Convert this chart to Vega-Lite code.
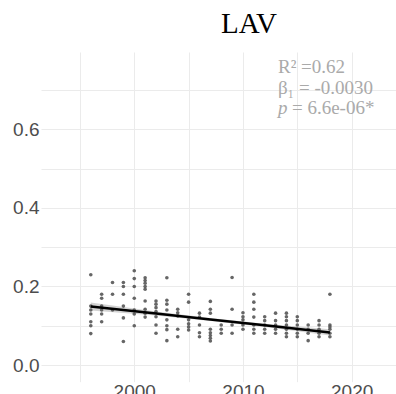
{
  "$schema": "https://vega.github.io/schema/vega-lite/v6.json",
  "width": 355,
  "height": 329.7,
  "autosize": "none",
  "padding": {"left": 41, "top": 52, "right": 0, "bottom": 12.3},
  "background": "white",
  "datasets": {
    "obs": [
      {"year": 1996, "value": 0.23}, {"year": 1996, "value": 0.15}, {"year": 1996, "value": 0.14}, {"year": 1996, "value": 0.13}, {"year": 1996, "value": 0.11}, {"year": 1996, "value": 0.10}, {"year": 1996, "value": 0.08},
      {"year": 1997, "value": 0.18}, {"year": 1997, "value": 0.17}, {"year": 1997, "value": 0.15}, {"year": 1997, "value": 0.14}, {"year": 1997, "value": 0.13}, {"year": 1997, "value": 0.11},
      {"year": 1998, "value": 0.21}, {"year": 1998, "value": 0.18}, {"year": 1998, "value": 0.14},
      {"year": 1999, "value": 0.21}, {"year": 1999, "value": 0.20}, {"year": 1999, "value": 0.18}, {"year": 1999, "value": 0.15}, {"year": 1999, "value": 0.12}, {"year": 1999, "value": 0.06},
      {"year": 2000, "value": 0.24}, {"year": 2000, "value": 0.22}, {"year": 2000, "value": 0.20}, {"year": 2000, "value": 0.17}, {"year": 2000, "value": 0.14}, {"year": 2000, "value": 0.13}, {"year": 2000, "value": 0.10},
      {"year": 2001, "value": 0.222}, {"year": 2001, "value": 0.215}, {"year": 2001, "value": 0.208}, {"year": 2001, "value": 0.20}, {"year": 2001, "value": 0.193}, {"year": 2001, "value": 0.163}, {"year": 2001, "value": 0.142}, {"year": 2001, "value": 0.132}, {"year": 2001, "value": 0.122},
      {"year": 2002, "value": 0.163}, {"year": 2002, "value": 0.155}, {"year": 2002, "value": 0.146}, {"year": 2002, "value": 0.136}, {"year": 2002, "value": 0.123}, {"year": 2002, "value": 0.102}, {"year": 2002, "value": 0.081},
      {"year": 2003, "value": 0.222}, {"year": 2003, "value": 0.165}, {"year": 2003, "value": 0.155}, {"year": 2003, "value": 0.14}, {"year": 2003, "value": 0.115}, {"year": 2003, "value": 0.10}, {"year": 2003, "value": 0.09}, {"year": 2003, "value": 0.062},
      {"year": 2004, "value": 0.142}, {"year": 2004, "value": 0.133}, {"year": 2004, "value": 0.125}, {"year": 2004, "value": 0.091}, {"year": 2004, "value": 0.072},
      {"year": 2005, "value": 0.18}, {"year": 2005, "value": 0.16}, {"year": 2005, "value": 0.115}, {"year": 2005, "value": 0.105}, {"year": 2005, "value": 0.097}, {"year": 2005, "value": 0.089},
      {"year": 2006, "value": 0.132}, {"year": 2006, "value": 0.122}, {"year": 2006, "value": 0.102}, {"year": 2006, "value": 0.082}, {"year": 2006, "value": 0.072},
      {"year": 2007, "value": 0.162}, {"year": 2007, "value": 0.142}, {"year": 2007, "value": 0.132}, {"year": 2007, "value": 0.091}, {"year": 2007, "value": 0.082}, {"year": 2007, "value": 0.075}, {"year": 2007, "value": 0.068}, {"year": 2007, "value": 0.061},
      {"year": 2008, "value": 0.102}, {"year": 2008, "value": 0.091}, {"year": 2008, "value": 0.081},
      {"year": 2009, "value": 0.223}, {"year": 2009, "value": 0.142}, {"year": 2009, "value": 0.102}, {"year": 2009, "value": 0.081},
      {"year": 2010, "value": 0.133}, {"year": 2010, "value": 0.123}, {"year": 2010, "value": 0.115}, {"year": 2010, "value": 0.102}, {"year": 2010, "value": 0.091},
      {"year": 2011, "value": 0.18}, {"year": 2011, "value": 0.16}, {"year": 2011, "value": 0.142}, {"year": 2011, "value": 0.122}, {"year": 2011, "value": 0.102}, {"year": 2011, "value": 0.091}, {"year": 2011, "value": 0.081},
      {"year": 2012, "value": 0.123}, {"year": 2012, "value": 0.113}, {"year": 2012, "value": 0.102}, {"year": 2012, "value": 0.091}, {"year": 2012, "value": 0.081},
      {"year": 2013, "value": 0.132}, {"year": 2013, "value": 0.113}, {"year": 2013, "value": 0.102}, {"year": 2013, "value": 0.091}, {"year": 2013, "value": 0.081},
      {"year": 2014, "value": 0.132}, {"year": 2014, "value": 0.123}, {"year": 2014, "value": 0.113}, {"year": 2014, "value": 0.102}, {"year": 2014, "value": 0.091}, {"year": 2014, "value": 0.081}, {"year": 2014, "value": 0.072},
      {"year": 2015, "value": 0.123}, {"year": 2015, "value": 0.113}, {"year": 2015, "value": 0.102}, {"year": 2015, "value": 0.091}, {"year": 2015, "value": 0.081}, {"year": 2015, "value": 0.072},
      {"year": 2016, "value": 0.102}, {"year": 2016, "value": 0.091}, {"year": 2016, "value": 0.081}, {"year": 2016, "value": 0.062},
      {"year": 2017, "value": 0.113}, {"year": 2017, "value": 0.102}, {"year": 2017, "value": 0.091}, {"year": 2017, "value": 0.081}, {"year": 2017, "value": 0.072},
      {"year": 2018, "value": 0.18}, {"year": 2018, "value": 0.102}, {"year": 2018, "value": 0.097}, {"year": 2018, "value": 0.091}, {"year": 2018, "value": 0.081}, {"year": 2018, "value": 0.072}
    ],
    "fit": [
      {"year": 1996, "fit": 0.149, "lo": 0.139, "hi": 0.159},
      {"year": 2002, "fit": 0.131, "lo": 0.126, "hi": 0.136},
      {"year": 2007, "fit": 0.116, "lo": 0.112, "hi": 0.120},
      {"year": 2012, "fit": 0.101, "lo": 0.097, "hi": 0.105},
      {"year": 2018, "fit": 0.083, "lo": 0.075, "hi": 0.091}
    ]
  },
  "layer": [
    {
      "data": {"name": "fit"},
      "mark": {"type": "area", "color": "#9e9e9e", "opacity": 0.45},
      "encoding": {
        "x": {
          "field": "year",
          "type": "quantitative",
          "scale": {"domain": [1991.42, 2024.08], "nice": false, "zero": false},
          "axis": {
            "title": null,
            "values": [1995, 2000, 2005, 2010, 2015, 2020],
            "labelExpr": "datum.value % 10 == 0 ? format(datum.value, 'd') : ''",
            "labelFont": "Liberation Sans",
            "labelFontSize": 19,
            "labelColor": "#4d4d4d",
            "labelPadding": 1,
            "domain": false,
            "ticks": false,
            "grid": true,
            "gridColor": "#ebebeb",
            "gridWidth": 1
          }
        },
        "y": {
          "field": "lo",
          "type": "quantitative",
          "scale": {"domain": [-0.0425, 0.797], "nice": false, "zero": false},
          "axis": {
            "title": null,
            "values": [0, 0.1, 0.2, 0.3, 0.4, 0.5, 0.6, 0.7],
            "labelExpr": "round(datum.value * 10) % 2 == 0 ? format(datum.value, '.1f') : ''",
            "labelFont": "Liberation Sans",
            "labelFontSize": 19,
            "labelColor": "#4d4d4d",
            "labelPadding": 2,
            "domain": false,
            "ticks": false,
            "grid": true,
            "gridColor": "#ebebeb",
            "gridWidth": 1
          }
        },
        "y2": {"field": "hi"}
      }
    },
    {
      "data": {"name": "obs"},
      "mark": {"type": "circle", "color": "#555555", "size": 13, "opacity": 0.9},
      "encoding": {
        "x": {"field": "year", "type": "quantitative"},
        "y": {"field": "value", "type": "quantitative"}
      }
    },
    {
      "data": {"name": "fit"},
      "mark": {"type": "line", "color": "black", "strokeWidth": 2.5},
      "encoding": {
        "x": {"field": "year", "type": "quantitative"},
        "y": {"field": "fit", "type": "quantitative"}
      }
    },
    {
      "data": {"values": [{}]},
      "mark": {"type": "text", "text": "LAV", "font": "Liberation Serif", "fontSize": 29, "color": "black", "align": "center", "baseline": "alphabetic"},
      "encoding": {
        "x": {"datum": 2010.55, "type": "quantitative"},
        "y": {"datum": 0.845, "type": "quantitative"}
      }
    },
    {
      "data": {"values": [{}]},
      "mark": {"type": "text", "text": "R\u00b2 =0.62", "font": "Liberation Serif", "fontSize": 19, "color": "#aaaaaa", "align": "left", "baseline": "alphabetic"},
      "encoding": {
        "x": {"datum": 2013.22, "type": "quantitative"},
        "y": {"datum": 0.744, "type": "quantitative"}
      }
    },
    {
      "data": {"values": [{}]},
      "mark": {"type": "text", "text": "\u03b2\u2081 = -0.0030", "font": "Liberation Serif", "fontSize": 19, "color": "#aaaaaa", "align": "left", "baseline": "alphabetic"},
      "encoding": {
        "x": {"datum": 2013.22, "type": "quantitative"},
        "y": {"datum": 0.691, "type": "quantitative"}
      }
    },
    {
      "data": {"values": [{}]},
      "mark": {"type": "text", "text": "p", "font": "Liberation Serif", "fontStyle": "italic", "fontSize": 19, "color": "#aaaaaa", "align": "left", "baseline": "alphabetic"},
      "encoding": {
        "x": {"datum": 2013.22, "type": "quantitative"},
        "y": {"datum": 0.64, "type": "quantitative"}
      }
    },
    {
      "data": {"values": [{}]},
      "mark": {"type": "text", "text": "= 6.6e-06*", "font": "Liberation Serif", "fontSize": 19, "color": "#aaaaaa", "align": "left", "baseline": "alphabetic", "dx": 14},
      "encoding": {
        "x": {"datum": 2013.22, "type": "quantitative"},
        "y": {"datum": 0.64, "type": "quantitative"}
      }
    }
  ],
  "config": {
    "view": {"stroke": null}
  }
}
